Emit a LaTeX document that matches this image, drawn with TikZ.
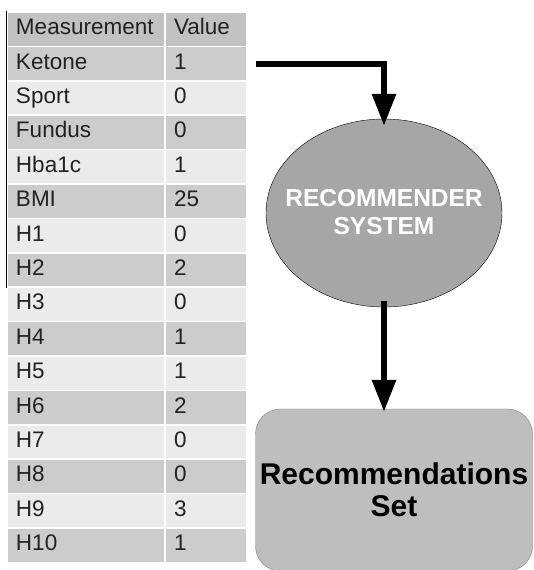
\documentclass[tikz,border=0pt]{standalone}
\usepackage{fontspec}
\setmainfont{Liberation Sans}
\usepackage{tikz}
\usetikzlibrary{arrows.meta,positioning,shapes.geometric,calc}
\definecolor{headgray}{HTML}{C2C2C2}
\definecolor{darkrow}{HTML}{CCCCCC}
\definecolor{lightrow}{HTML}{EBEBEB}
\definecolor{ellgray}{HTML}{A6A6A6}
\definecolor{boxgray}{HTML}{BEBEBE}
\definecolor{cellink}{HTML}{222222}

\begin{document}
\begin{tikzpicture}[x=1pt, y=-1pt,
    mcell/.style={rectangle, draw=white, line width=1.5pt, minimum height=34.4pt, text width=140pt, inner xsep=9pt, inner ysep=0pt, align=left, text height=16pt, text depth=5pt, font=\fontsize{22.5}{24}\selectfont, text=cellink},
    vcell/.style={mcell, text width=64pt},
    arrow/.style={-{Triangle[length=32pt, width=23pt]}, line width=6pt}
  ]
    \useasboundingbox (0,0) rectangle (534,570);
    % table
    \node[mcell, fill=headgray] (m0) at (86,29.2) {Measurement};
    \node[vcell, fill=headgray] (v0) at (206,29.2) {Value};
    \foreach \name/\val [count=\i] in {Ketone/1, Sport/0, Fundus/0, Hba1c/1, BMI/25, H1/0, H2/2, H3/0, H4/1, H5/1, H6/2, H7/0, H8/0, H9/3, H10/1} {
      \pgfmathsetmacro{\rowy}{29.2+34.4*\i}
      \ifodd\i \def\rowcol{darkrow}\else \def\rowcol{lightrow}\fi
      \node[mcell, fill=\rowcol] (m\i) at (86,\rowy) {\name};
      \node[vcell, fill=\rowcol] (v\i) at (206,\rowy) {\val};
    }
    \draw[line width=1.2pt] ([xshift=0.6pt]m0.north west) -- ([xshift=0.6pt]m7.south west);
    % flow
    \node[ellipse, draw, fill=ellgray, minimum width=236pt, minimum height=188pt, inner sep=0pt,
      label={[align=center, text=white, font=\bfseries\fontsize{24.5}{28}\selectfont, yshift=1pt]center:RECOMMENDER\\SYSTEM}] (rec) at (384,213) {};
    \node[rectangle, draw=gray, fill=boxgray, rounded corners=25pt, minimum width=277pt, minimum height=162pt, align=center, font=\bfseries\fontsize{30}{32}\selectfont] (set) at (394,490) {Recommendations\\Set};
    \draw[arrow] ([xshift=8pt]v1.east) -| ([yshift=-7pt]rec.north);
    \draw[arrow] ([yshift=6pt]rec.south) -- ([yshift=-3pt]rec.south |- set.north);
  \end{tikzpicture}
\end{document}
